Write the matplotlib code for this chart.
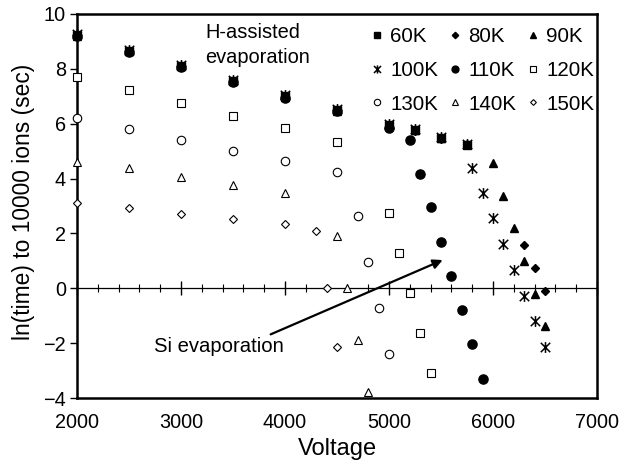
import matplotlib
matplotlib.use('Agg')
import matplotlib.pyplot as plt
from matplotlib.path import Path
from matplotlib.ticker import MultipleLocator

plt.rcParams['font.family'] = ['Liberation Sans', 'DejaVu Sans']

# ---------------- data ----------------
v60 = [2000, 2500, 3000, 3500, 4000, 4500, 5000, 5250, 5500, 5750]
y60 = [9.23, 8.66, 8.10, 7.57, 7.00, 6.50, 5.97, 5.77, 5.48, 5.24]

v80 = [2000, 2500, 3000, 3500, 4000, 4500, 5000, 5250, 5500, 5750, 6300, 6400, 6500]
y80 = [9.20, 8.63, 8.08, 7.55, 6.97, 6.47, 5.95, 5.75, 5.46, 5.22, 1.58, 0.73, -0.09]

v90 = [2000, 2500, 3000, 3500, 4000, 4500, 5000, 5250, 5500, 5750, 6000, 6100, 6200, 6300, 6400, 6500]
y90 = [9.21, 8.64, 8.09, 7.56, 6.98, 6.48, 5.96, 5.78, 5.49, 5.25, 4.58, 3.37, 2.19, 1.01, -0.21, -1.37]

v100 = [2000, 2500, 3000, 3500, 4000, 4500, 5000, 5250, 5500, 5750, 5800, 5900, 6000, 6100, 6200, 6300, 6400, 6500]
y100 = [9.26, 8.69, 8.13, 7.60, 7.03, 6.54, 6.00, 5.80, 5.51, 5.27, 4.40, 3.49, 2.55, 1.62, 0.67, -0.28, -1.19, -2.13]

v110 = [2000, 2500, 3000, 3500, 4000, 4500, 5000, 5200, 5300, 5400, 5500, 5600, 5700, 5800, 5900]
y110 = [9.19, 8.62, 8.06, 7.53, 6.95, 6.45, 5.85, 5.40, 4.17, 2.95, 1.68, 0.46, -0.79, -2.04, -3.31]

v120 = [2000, 2500, 3000, 3500, 4000, 4500, 5000, 5100, 5200, 5300, 5400]
y120 = [7.71, 7.23, 6.74, 6.29, 5.83, 5.34, 2.76, 1.30, -0.16, -1.64, -3.10]

v130 = [2000, 2500, 3000, 3500, 4000, 4500, 4700, 4800, 4900, 5000]
y130 = [6.20, 5.80, 5.41, 5.02, 4.64, 4.25, 2.65, 0.95, -0.73, -2.41]

v140 = [2000, 2500, 3000, 3500, 4000, 4500, 4600, 4700, 4800]
y140 = [4.62, 4.37, 4.07, 3.77, 3.48, 1.91, 0.00, -1.88, -3.77]

v150 = [2000, 2500, 3000, 3500, 4000, 4300, 4400, 4500]
y150 = [3.12, 2.92, 2.71, 2.52, 2.33, 2.09, 0.00, -2.13]

labels = ['60K', '80K', '90K', '100K', '110K', '120K', '130K', '140K', '150K']
xticks = [2000, 3000, 4000, 5000, 6000, 7000]
yticks = [-4, -2, 0, 2, 4, 6, 8, 10]

# ---------------- figure ----------------
fig = plt.figure(figsize=(6.21, 4.72), dpi=100)
ax = fig.add_axes([77 / 621, 1 - 398 / 472, (597 - 77) / 621, (398 - 14) / 472])

star = Path([(-1, -1), (1, 1), (-1, 1), (1, -1), (0, -1.15), (0, 1.15)],
            [Path.MOVETO, Path.LINETO] * 3)

styles = [
    (v60, y60, dict(marker='s', ms=5.5, mfc='black', mec='black')),
    (v80, y80, dict(marker='D', ms=4.3, mfc='black', mec='black')),
    (v90, y90, dict(marker='^', ms=6.3, mfc='black', mec='black')),
    (v100, y100, dict(marker=star, ms=7.8, mfc='none', mec='black', mew=1.1)),
    (v110, y110, dict(marker='o', ms=6.6, mfc='black', mec='black')),
    (v120, y120, dict(marker='s', ms=5.3, mfc='white', mec='black', mew=0.8)),
    (v130, y130, dict(marker='o', ms=6.1, mfc='white', mec='black', mew=0.8)),
    (v140, y140, dict(marker='^', ms=5.9, mfc='white', mec='black', mew=0.8)),
    (v150, y150, dict(marker='D', ms=3.9, mfc='white', mec='black', mew=0.8)),
]

handles = []
for (xs, ys, st), lab in zip(styles, labels):
    h, = ax.plot(xs, ys, ls='none', label=lab, clip_on=False, zorder=3, **st)
    handles.append(h)

ax.set_xlim(2000, 7000)
ax.set_ylim(-4, 10)
ax.set_xticks(xticks)
ax.set_yticks(yticks)
ax.tick_params(axis='x', length=0, pad=11, labelsize=14.3)
ax.tick_params(axis='y', direction='out', length=5, width=1, pad=3, labelsize=14.3)
for s in ax.spines.values():
    s.set_linewidth(1.8)

# x axis crossing at y = 0
sec = ax.secondary_xaxis(4 / 14)
sec.xaxis.set_major_locator(MultipleLocator(1000))
sec.xaxis.set_minor_locator(MultipleLocator(200))
sec.tick_params(which='major', direction='inout', length=9.5, width=1.0,
                labelbottom=False, labeltop=False)
sec.tick_params(which='minor', direction='inout', length=6, width=0.8)
for s in sec.spines.values():
    s.set_linewidth(0.9)

ax.set_xlabel('Voltage', fontsize=17)
ax.set_ylabel('ln(time) to 10000 ions (sec)', fontsize=16.4)
ax.xaxis.set_label_coords(0.5, -0.105)
ax.yaxis.set_label_coords(-0.08, 0.512)

order = [0, 3, 6, 1, 4, 7, 2, 5, 8]
ax.legend([handles[i] for i in order], [labels[i] for i in order], ncol=3,
          loc='upper right', bbox_to_anchor=(594 / 621, 1 - 27 / 472),
          bbox_transform=fig.transFigure, frameon=False, fontsize=14.8,
          handlelength=0.6, handletextpad=0.35, columnspacing=0.5,
          labelspacing=0.72, borderpad=0, borderaxespad=0, markerscale=0.75)

ax.text(3231, 8.87, 'H-assisted\nevaporation', ha='left', va='center',
        fontsize=14.4, linespacing=1.45)
ax.text(2740, -2.13, 'Si evaporation', ha='left', va='center', fontsize=14.6)
ax.annotate('', xy=(5516, 1.03), xytext=(3862, -1.68),
            arrowprops=dict(arrowstyle='-|>', color='black', lw=1.6,
                            mutation_scale=14, shrinkA=0, shrinkB=0))

fig.savefig('out.png', dpi=100)
